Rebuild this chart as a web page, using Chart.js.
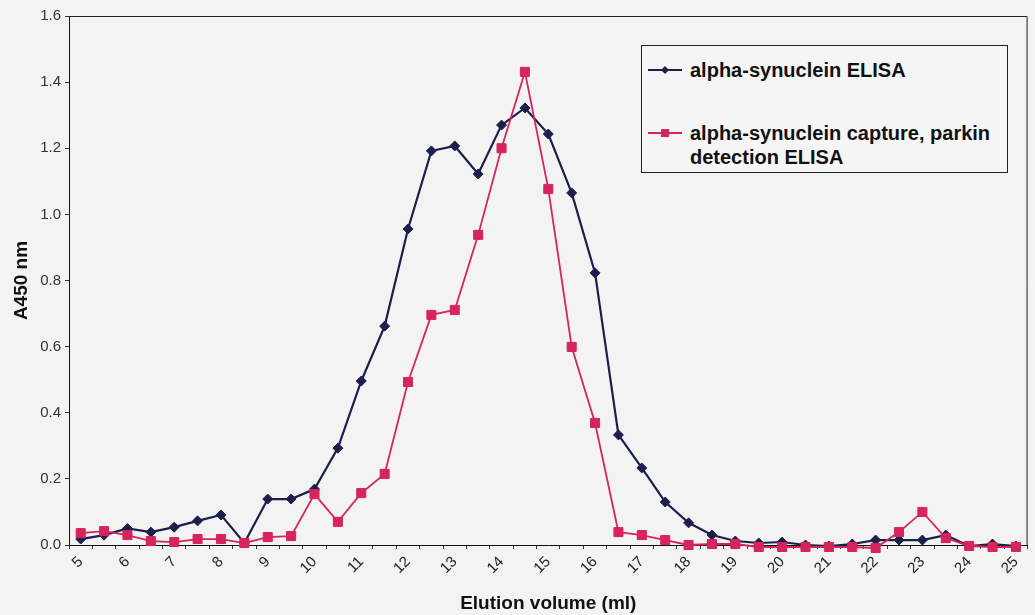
<!DOCTYPE html>
<html>
<head>
<meta charset="utf-8">
<script src="https://cdn.jsdelivr.net/npm/chart.js@4/dist/chart.umd.min.js"></script>
<style>
  html, body { margin: 0; padding: 0; background: #f3f3f3; }
  #wrap { position: relative; width: 1035px; height: 615px; }
  #legend {
    position: absolute; left: 641px; top: 45px; width: 367px; height: 128px;
    box-sizing: border-box; border: 1px solid #222; background: #f5f5f5;
    font: bold 20px Arial, "Liberation Sans", sans-serif; color: #111;
  }
  .item { position: absolute; left: 6px; display: flex; align-items: flex-start; }
  .item svg { flex: none; margin-right: 8px; }
  .item span { line-height: 24px; max-width: 316px; }
</style>
</head>
<body>
<div id="wrap">
  <canvas id="chart" width="1035" height="615"></canvas>
  <div id="legend"></div>
</div>
<script>
const volumes = [5, 5.5, 6, 6.5, 7, 7.5, 8, 8.5, 9, 9.5, 10, 10.5, 11, 11.5, 12, 12.5, 13, 13.5, 14, 14.5,
  15, 15.5, 16, 16.5, 17, 17.5, 18, 18.5, 19, 19.5, 20, 20.5, 21, 21.5, 22, 22.5, 23, 23.5, 24, 24.5, 25];

const synucleinElisa = [0.018, 0.03, 0.05, 0.039, 0.054, 0.073, 0.091, 0.006, 0.139, 0.139, 0.169, 0.293, 0.496, 0.662,
  0.956, 1.192, 1.207, 1.122, 1.27, 1.322, 1.243, 1.065, 0.823, 0.333, 0.233, 0.13, 0.067, 0.03, 0.012, 0.006,
  0.009, 0.0, -0.003, 0.003, 0.015, 0.015, 0.015, 0.03, -0.003, 0.003, -0.003];

const parkinElisa = [0.036, 0.042, 0.03, 0.012, 0.009, 0.018, 0.018, 0.006, 0.024, 0.027, 0.154, 0.07, 0.157, 0.215,
  0.493, 0.696, 0.711, 0.938, 1.2, 1.431, 1.077, 0.599, 0.369, 0.039, 0.03, 0.015, 0.0, 0.003, 0.003, -0.006,
  -0.006, -0.006, -0.006, -0.006, -0.009, 0.039, 0.1, 0.021, -0.003, -0.006, -0.006];

const seriesNames = ["alpha-synuclein ELISA", "alpha-synuclein capture, parkin detection ELISA"];

const FONT = "Arial, 'Liberation Sans', sans-serif";
const NAVY = "#1d1f4b";
const PINK = "#d6245c";

// top + right edge of the plot box
const plotFrame = {
  id: "plotFrame",
  beforeDatasetsDraw(c) {
    const { ctx, chartArea: a } = c;
    ctx.save();
    ctx.strokeStyle = "#222";
    ctx.lineWidth = 1;
    ctx.beginPath();
    ctx.moveTo(a.left, a.top + 0.5);
    ctx.lineTo(a.right - 0.5, a.top + 0.5);
    ctx.lineTo(a.right - 0.5, a.bottom);
    ctx.stroke();
    ctx.restore();
  }
};

const chart = new Chart(document.getElementById("chart"), {
  type: "line",
  data: {
    labels: volumes.map(String),
    datasets: [
      {
        label: seriesNames[0],
        data: synucleinElisa,
        borderColor: NAVY,
        backgroundColor: NAVY,
        borderWidth: 2.2,
        pointStyle: "rectRot",
        pointRadius: 5,
        pointBorderWidth: 1,
        tension: 0,
        clip: false,
        order: 1
      },
      {
        label: seriesNames[1],
        data: parkinElisa,
        borderColor: PINK,
        backgroundColor: PINK,
        borderWidth: 1.8,
        pointStyle: "rect",
        pointRadius: 6.4,
        pointBorderWidth: 1,
        tension: 0,
        clip: false,
        order: 0
      }
    ]
  },
  options: {
    responsive: false,
    animation: false,
    layout: { padding: { top: 16, right: 5, left: 0, bottom: 0 } },
    plugins: { legend: { display: false }, tooltip: { enabled: false } },
    scales: {
      x: {
        type: "category",
        offset: true,
        grid: { offset: true, drawOnChartArea: false, tickLength: 4, color: "#333" },
        border: { color: "#111", width: 1 },
        ticks: {
          autoSkip: false,
          minRotation: 45,
          maxRotation: 45,
          padding: 4,
          color: "#222",
          font: { size: 15, family: FONT },
          callback: (v, i) => Number.isInteger(volumes[i]) ? String(volumes[i]) : ""
        },
        title: {
          display: true, text: "Elution volume (ml)", color: "#111", padding: 0,
          font: { size: 19, weight: "bold", family: FONT }
        },
        afterFit(s) { s.height = 70; }
      },
      y: {
        min: 0,
        max: 1.6,
        ticks: {
          stepSize: 0.2,
          padding: 4,
          color: "#333",
          font: { size: 15, family: FONT },
          callback: v => v.toFixed(1)
        },
        grid: { drawOnChartArea: false, tickLength: 4, color: "#333" },
        border: { color: "#111", width: 1 },
        title: {
          display: true, text: "A450 nm", color: "#111", padding: { top: 10, bottom: 0 },
          font: { size: 19, weight: "bold", family: FONT }
        },
        afterFit(s) { s.width = 69; }
      }
    }
  },
  plugins: [plotFrame]
});

// html legend, built from the datasets
const legend = document.getElementById("legend");
const tops = [12, 75];
chart.data.datasets.forEach((ds, i) => {
  const marker = ds.pointStyle === "rect"
    ? `<rect x="13" y="8" width="8" height="8" fill="${ds.borderColor}"/>`
    : `<polygon points="17,8 21,12 17,16 13,12" fill="${ds.borderColor}"/>`;
  const div = document.createElement("div");
  div.className = "item";
  div.style.top = tops[i] + "px";
  div.innerHTML = `
    <svg width="34" height="24"><line x1="0" y1="12" x2="34" y2="12" stroke="${ds.borderColor}" stroke-width="2"/>${marker}</svg>
    <span>${ds.label}</span>
  `;
  legend.appendChild(div);
});
</script>
</body>
</html>
